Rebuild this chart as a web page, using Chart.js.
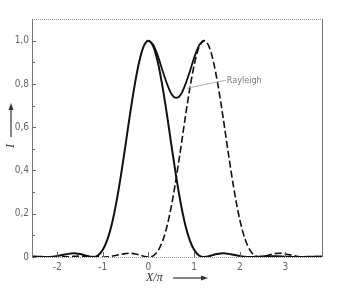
<!DOCTYPE html>
<html><head><meta charset="utf-8">
<script src="https://cdn.jsdelivr.net/npm/chart.js@4"></script>
<style>html,body{margin:0;padding:0;background:#fff;}canvas{display:block;}</style>
</head><body>
<canvas id="c" width="349" height="290"></canvas>
<script>
// Single pattern (solid), centred at 0
const xs1 = [-2.55,-2.4,-2.23,-2.1,-2.0,-1.9,-1.8,-1.64,-1.5,-1.4,-1.3,-1.22,-1.1,-1.0,-0.9,-0.8,-0.7,-0.6,-0.5,-0.4,-0.3,-0.2,-0.1,0,0.1,0.2,0.3,0.4,0.5,0.6,0.7,0.8,0.9,1.0,1.1,1.22,1.3,1.4,1.5,1.64,1.8,1.9,2.0,2.1,2.23,2.4,2.55,2.7,2.85,3.0,3.24,3.5,3.8];
const ys1 = [0.003,0.0015,0,0.0015,0.0046,0.009,0.013,0.0175,0.014,0.0085,0.002,0,0.008,0.033,0.080,0.154,0.256,0.381,0.521,0.665,0.797,0.905,0.976,1,0.976,0.905,0.797,0.665,0.521,0.381,0.256,0.154,0.080,0.033,0.008,0,0.002,0.0085,0.014,0.0175,0.013,0.009,0.0046,0.0015,0,0.0015,0.003,0.004,0.003,0.0015,0,0.001,0.0014];
// Second pattern (dashed), centred at 1.22
const xs2 = [-2.55,-2.28,-2.02,-1.78,-1.63,-1.48,-1.33,-1.18,-1.01,-0.88,-0.78,-0.68,-0.58,-0.42,-0.28,-0.18,-0.08,0,0.12,0.22,0.32,0.42,0.52,0.62,0.72,0.82,0.92,1.02,1.12,1.22,1.32,1.42,1.52,1.62,1.72,1.82,1.92,2.02,2.12,2.22,2.32,2.44,2.52,2.62,2.72,2.86,3.02,3.12,3.22,3.32,3.45,3.62,3.8];
const ys2 = [0.0015,0.001,0,0.0015,0.003,0.004,0.003,0.0015,0,0.0015,0.0046,0.009,0.013,0.0175,0.014,0.0085,0.002,0,0.008,0.033,0.080,0.154,0.256,0.381,0.521,0.665,0.797,0.905,0.976,1,0.976,0.905,0.797,0.665,0.521,0.381,0.256,0.154,0.080,0.033,0.008,0,0.002,0.0085,0.014,0.0175,0.013,0.009,0.0046,0.0015,0,0.0015,0.003];
// Sum curve (Rayleigh dip)
const xsSum = [0,0.1,0.2,0.3,0.4,0.5,0.61,0.72,0.82,0.92,1.02,1.12,1.22];
const ysSum = [1,0.982,0.933,0.867,0.804,0.755,0.736,0.755,0.804,0.867,0.933,0.982,1];

const xTickValues = [-2,-1,0,1,2,3];
const xTickLabels = ['-2','-1','0','1','2','3'];
const yTickValues = [0,0.2,0.4,0.6,0.8,1.0];
const yTickLabels = ['0','0,2','0,4','0,6','0,8','1,0'];
const yMinorTicks = [0.1,0.3,0.5,0.7,0.9];
const annotationText = 'Rayleigh';
const annotationPoint = {x:0.84, y:0.78};
const xTitle = 'X/\u03C0';
const yTitle = 'I';

const pts = (xs, ys) => xs.map((x,i)=>({x:x, y:ys[i]}));
const tickFont = {family:"'Liberation Sans Narrow','DejaVu Sans Condensed',sans-serif", size:10};

const deco = {
  id:'deco',
  afterDatasetsDraw(chart){
    const {ctx, chartArea:a, scales:{x, y}} = chart;
    ctx.save();
    // frame
    ctx.lineWidth = 1;
    ctx.strokeStyle = '#999';
    ctx.setLineDash([1,1]);
    ctx.beginPath(); ctx.moveTo(a.left, a.top+0.5); ctx.lineTo(a.right, a.top+0.5); ctx.stroke();
    ctx.beginPath(); ctx.moveTo(a.left, a.bottom+0.5); ctx.lineTo(a.right, a.bottom+0.5); ctx.stroke();
    ctx.setLineDash([]);
    ctx.strokeStyle = '#777';
    ctx.beginPath(); ctx.moveTo(a.right+0.5, a.top); ctx.lineTo(a.right+0.5, a.bottom); ctx.stroke();
    ctx.beginPath(); ctx.moveTo(a.left+0.5, a.top); ctx.lineTo(a.left+0.5, a.bottom+1); ctx.stroke();
    // y ticks (inside)
    ctx.strokeStyle = '#666';
    yTickValues.forEach(v=>{ const py=Math.round(y.getPixelForValue(v))+0.5; ctx.beginPath(); ctx.moveTo(a.left, py); ctx.lineTo(a.left+4, py); ctx.stroke(); });
    yMinorTicks.forEach(v=>{ const py=Math.round(y.getPixelForValue(v))+0.5; ctx.beginPath(); ctx.moveTo(a.left, py); ctx.lineTo(a.left+3, py); ctx.stroke(); });
    // x ticks (inside)
    xTickValues.forEach(v=>{ const px=Math.round(x.getPixelForValue(v))+0.5; ctx.beginPath(); ctx.moveTo(px, a.bottom); ctx.lineTo(px, a.bottom-5); ctx.stroke(); });
    // Rayleigh annotation
    const sx = x.getPixelForValue(annotationPoint.x), sy = y.getPixelForValue(annotationPoint.y);
    const tx = sx + 40, ty = sy - 8;
    ctx.strokeStyle = '#aaa';
    ctx.beginPath(); ctx.moveTo(sx, sy); ctx.lineTo(tx-1, ty); ctx.stroke();
    ctx.fillStyle = '#777';
    ctx.font = "9px 'Liberation Sans Narrow','DejaVu Sans Condensed',sans-serif";
    ctx.textAlign = 'left'; ctx.textBaseline = 'middle';
    ctx.fillText(annotationText, tx, ty);
    // x title with arrow
    ctx.fillStyle = '#333';
    ctx.font = "italic 12px 'Liberation Serif',serif";
    ctx.textAlign = 'left';
    const cx = (a.left + a.right)/2;
    ctx.fillText(xTitle, cx - 31, a.bottom + 21);
    ctx.strokeStyle = '#333'; ctx.lineWidth = 1.2;
    const ay = a.bottom + 21;
    ctx.beginPath(); ctx.moveTo(cx - 4, ay); ctx.lineTo(cx + 28, ay); ctx.stroke();
    ctx.beginPath(); ctx.moveTo(cx + 31, ay); ctx.lineTo(cx + 24, ay - 2.5); ctx.lineTo(cx + 24, ay + 2.5); ctx.closePath(); ctx.fill();
    // y title with arrow
    const yx = 11;
    ctx.save();
    ctx.translate(yx, 146);
    ctx.rotate(-Math.PI/2);
    ctx.textAlign = 'center';
    ctx.fillText(yTitle, 0, 0);
    ctx.restore();
    ctx.beginPath(); ctx.moveTo(yx, 137); ctx.lineTo(yx, 107); ctx.stroke();
    ctx.beginPath(); ctx.moveTo(yx, 103); ctx.lineTo(yx-2.5, 110); ctx.lineTo(yx+2.5, 110); ctx.closePath(); ctx.fill();
    ctx.restore();
  }
};

new Chart(document.getElementById('c'), {
  type:'line',
  data:{datasets:[
    {data:pts(xs1, ys1), borderColor:'#111', borderWidth:2, pointRadius:0, cubicInterpolationMode:'monotone', fill:false},
    {data:pts(xs2, ys2), borderColor:'#111', borderWidth:1.6, borderDash:[7,3], pointRadius:0, cubicInterpolationMode:'monotone', fill:false},
    {data:pts(xsSum, ysSum), borderColor:'#111', borderWidth:1.8, pointRadius:0, cubicInterpolationMode:'monotone', fill:false}
  ]},
  options:{
    responsive:false, animation:false, devicePixelRatio:1,
    layout:{padding:{left:0, right:27, top:19, bottom:0}},
    plugins:{legend:{display:false}, tooltip:{enabled:false}},
    scales:{
      x:{type:'linear', min:-2.55, max:3.8,
        afterBuildTicks:(s)=>{ s.ticks = xTickValues.map(v=>({value:v})); },
        afterFit:(s)=>{ s.height = 33; },
        grid:{display:false, drawTicks:false}, border:{display:false},
        ticks:{padding:4, color:'#666', font:tickFont, maxRotation:0, autoSkip:false,
          callback:(v)=>{ const i = xTickValues.indexOf(v); return i>=0 ? xTickLabels[i] : ''; }}
      },
      y:{type:'linear', min:0, max:1.1,
        afterBuildTicks:(s)=>{ s.ticks = yTickValues.map(v=>({value:v})); },
        afterFit:(s)=>{ s.width = 32; },
        grid:{display:false, drawTicks:false}, border:{display:false},
        ticks:{padding:3, color:'#666', font:tickFont, autoSkip:false,
          callback:(v)=>{ const i = yTickValues.findIndex(t=>Math.abs(t-v)<1e-6); return i>=0 ? yTickLabels[i] : ''; }}
      }
    }
  },
  plugins:[deco]
});
</script>
</body></html>
